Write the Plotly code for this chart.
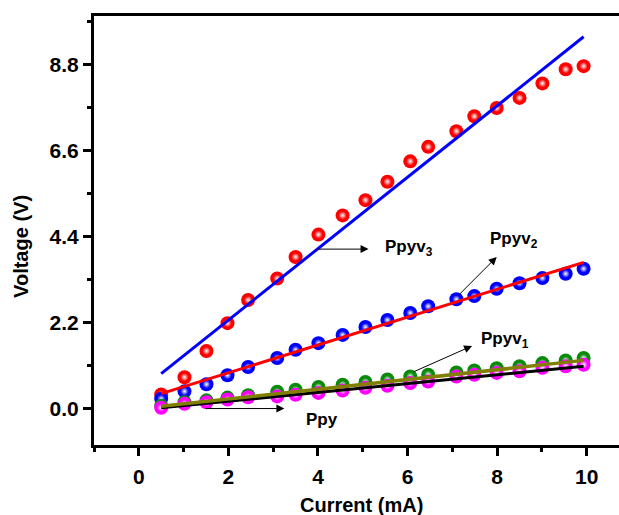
import plotly.graph_objects as go

current = [0.5, 1.02, 1.51, 1.98, 2.44, 3.09, 3.5, 4.01, 4.55, 5.06, 5.55, 6.06, 6.46, 7.09, 7.49, 7.99, 8.5, 9.01, 9.53, 9.93]
ppyv3 = [0.37, 0.81, 1.48, 2.19, 2.78, 3.33, 3.88, 4.45, 4.94, 5.33, 5.80, 6.32, 6.69, 7.09, 7.47, 7.68, 7.94, 8.31, 8.67, 8.75]
ppyv2 = [0.26, 0.45, 0.63, 0.86, 1.07, 1.30, 1.51, 1.68, 1.89, 2.09, 2.27, 2.45, 2.62, 2.80, 2.88, 3.07, 3.21, 3.34, 3.45, 3.58]
ppyv1 = [0.08, 0.17, 0.22, 0.29, 0.35, 0.44, 0.49, 0.56, 0.62, 0.69, 0.75, 0.83, 0.875, 0.93, 0.98, 1.04, 1.09, 1.17, 1.24, 1.30]
ppy = [0.03, 0.13, 0.17, 0.24, 0.30, 0.32, 0.36, 0.41, 0.47, 0.54, 0.59, 0.66, 0.70, 0.83, 0.875, 0.92, 0.96, 1.05, 1.09, 1.13]

fit_x = [0.5, 9.93]
fit_ppyv3 = [0.90, 9.50]
fit_ppyv2 = [0.39, 3.74]
fit_ppyv1 = [0.07, 1.24]
fit_ppy = [0.03, 1.09]

FONT = "Liberation Sans, Arial, sans-serif"

fig = go.Figure()

def balls(y, color):
    # solid sphere body
    fig.add_trace(go.Scatter(
        x=current, y=y, mode="markers", showlegend=False, hoverinfo="skip",
        marker=dict(size=14, color=color, line=dict(width=0))))
    # specular highlight
    fig.add_trace(go.Scatter(
        x=current, y=y, mode="markers", showlegend=False,
        marker=dict(size=8, color=color, line=dict(width=0),
                    gradient=dict(type="radial", color="white"))))

balls(ppyv3, "#ff0000")
balls(ppyv2, "#0000ff")
balls(ppyv1, "#0a8a0a")
balls(ppy, "#ff00ff")

def fit(y, color, w):
    fig.add_trace(go.Scatter(x=fit_x, y=y, mode="lines", showlegend=False,
                             line=dict(color=color, width=w)))

fit(fit_ppyv3, "#0000ff", 3)
fit(fit_ppyv2, "#ff0000", 3)
fit(fit_ppy, "#000000", 3)
fit(fit_ppyv1, "#808000", 3.5)

afont = dict(family=FONT, size=17, color="black", weight="bold")
arrows = [
    ((5.13, 4.08), (3.96, 4.08)),
    ((7.99, 3.88), (7.10, 2.86)),
    ((7.44, 1.61), (6.10, 0.93)),
    ((3.25, 0.01), (1.46, 0.01)),
]
for (hx, hy), (tx, ty) in arrows:
    fig.add_annotation(x=hx, y=hy, ax=tx, ay=ty, xref="x", yref="y", axref="x", ayref="y",
                       text="", showarrow=True, arrowhead=2, arrowsize=1.6, arrowwidth=1,
                       arrowcolor="black")

labels = [
    ("Ppyv<sub>3</sub>", 5.45, 4.12),
    ("Ppyv<sub>2</sub>", 7.80, 4.30),
    ("Ppyv<sub>1</sub>", 7.60, 1.75),
    ("Ppy", 3.69, -0.27),
]
for t, x, y in labels:
    fig.add_annotation(x=x, y=y, xref="x", yref="y", text=t, showarrow=False,
                       xanchor="left", yanchor="middle", font=afont)

tfont = dict(family=FONT, size=20, color="black", weight="bold")
kfont = dict(family=FONT, size=21, color="black", weight="bold")
fig.add_annotation(xref="paper", yref="paper", x=0.510, y=-0.140, text="Current (mA)",
                   showarrow=False, font=tfont, xanchor="center", yanchor="middle")
fig.add_annotation(xref="paper", yref="paper", x=-0.138, y=0.463, text="Voltage (V)",
                   textangle=-90, showarrow=False, font=tfont, xanchor="center", yanchor="middle")

fig.update_xaxes(range=[-1.0, 10.72], showgrid=False, zeroline=False,
                 showline=True, linewidth=3, linecolor="black", mirror=True,
                 ticks="outside", ticklen=8, tickwidth=2.5, tickcolor="black",
                 tick0=0, dtick=2, tickfont=kfont, ticklabelstandoff=3,
                 minor=dict(ticks="outside", ticklen=4, tickwidth=2.5, dtick=1, tick0=0, tickcolor="black"))
fig.update_yaxes(range=[-0.92, 10.03], showgrid=False, zeroline=False,
                 showline=True, linewidth=3, linecolor="black", mirror=False,
                 ticks="outside", ticklen=8, tickwidth=2.5, tickcolor="black",
                 tick0=0, dtick=2.2, tickformat=".1f", tickfont=kfont,
                 minor=dict(ticks="outside", ticklen=4, tickwidth=2.5, dtick=1.1, tick0=0, tickcolor="black"))

fig.update_layout(width=619, height=515, margin=dict(l=94, r=0, t=16, b=70),
                  plot_bgcolor="white", paper_bgcolor="white")

fig.write_html("out.html")
